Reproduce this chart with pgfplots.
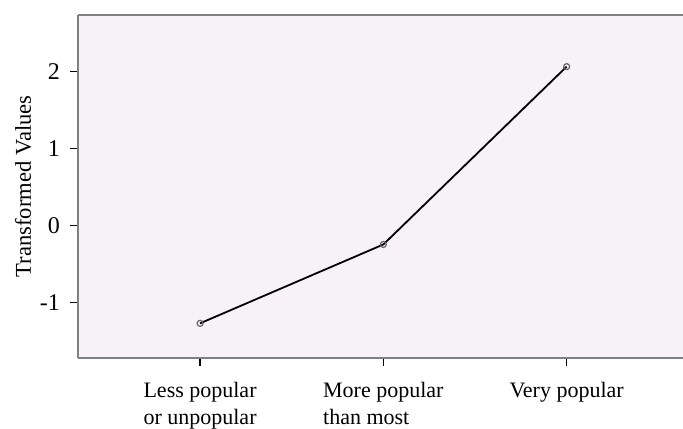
\documentclass[border=0pt]{standalone}
\usepackage{pgfplots}
\pgfplotsset{compat=1.18}
\usepackage{fontspec}
\setmainfont{Liberation Serif}
\definecolor{bgc}{HTML}{F6F2F6}
\definecolor{framec}{HTML}{808080}
\begin{document}
\begin{tikzpicture}
\useasboundingbox (-39pt,-35pt) rectangle (302.5pt,179pt);
\begin{axis}[
  scale only axis,
  width=302.5pt, height=171.5pt,
  at={(0,0)}, anchor=south west,
  axis x line=box, axis y line=left,
  axis line style={-, framec, line width=0.9pt},
  axis background/.style={fill=bgc},
  xmin=-0.666, xmax=2.635,
  ymin=-1.72, ymax=2.73,
  xtick={0,1,2},
  xticklabels={{Less popular\\or unpopular},{More popular\\than most},{Very popular}},
  ytick={-1,0,1,2},
  tick align=outside,
  xtick pos=bottom, ytick pos=left,
  major tick length=4pt,
  tick style={black, line width=0.6pt},
  /pgf/number format/assume math mode=true,
  xticklabel style={font=\fontsize{11}{13.5}\selectfont, align=left, yshift=-4.5pt},
  yticklabel style={font=\fontsize{12}{14}\selectfont, xshift=-1.5pt},
  ylabel={Transformed Values},
  every axis y label/.style={at={(axis description cs:-0.0909,0.5)}, rotate=90, anchor=center, font=\fontsize{11.3}{13}\selectfont},
  clip=false,
]
\addplot[black, line width=0.9pt, mark=o, mark size=1.5pt, mark options={draw=black!60, line width=0.6pt}] coordinates {
  (0,-1.27) (1,-0.247) (2,2.06)
};
\end{axis}
\end{tikzpicture}
\end{document}
